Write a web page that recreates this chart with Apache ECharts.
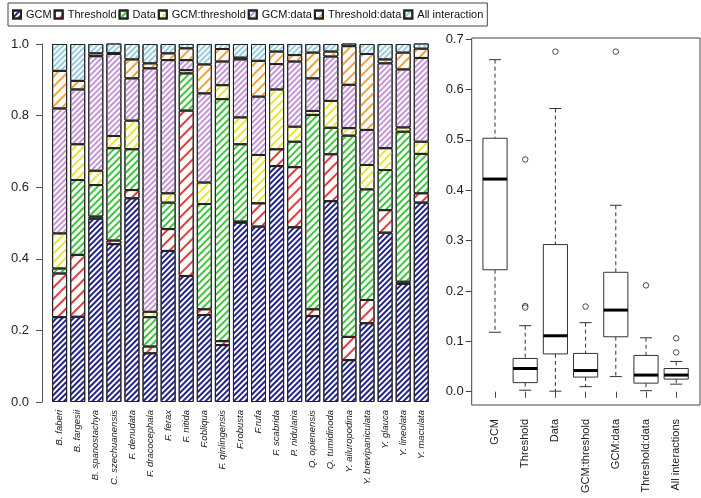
<!DOCTYPE html>
<html>
<head>
<meta charset="utf-8">
<script src="https://cdn.jsdelivr.net/npm/echarts@6/dist/echarts.min.js"></script>
<style>
html,body{margin:0;padding:0;background:#fff;}
#chart{width:701px;height:498px;}
</style>
</head>
<body>
<div id="chart"></div>
<script>
// ---------- Left: stacked proportions per species ----------
const species = ['B. faberi','B. fargesii','B. spanostachya','C. szechuanensis','F. denudata','F. dracocephala','F. ferax','F. nitida','F.obliqua','F. qinlingensis','F.robusta','F.rufa','F. scabrida','P. nidularia','Q. opienensis','Q. tumidinoda','Y. ailuropodina','Y. brevipaniculata','Y. glauca','Y. lineolata','Y. maculata'];
const gcm          = [0.237,0.238,0.512,0.441,0.569,0.136,0.422,0.352,0.243,0.159,0.501,0.490,0.659,0.488,0.240,0.561,0.117,0.220,0.473,0.330,0.557];
const threshold    = [0.122,0.173,0.006,0.010,0.023,0.019,0.061,0.462,0.016,0.011,0.003,0.065,0.047,0.168,0.019,0.131,0.065,0.065,0.063,0.006,0.026];
const dataPart     = [0.014,0.209,0.088,0.258,0.114,0.082,0.074,0.104,0.294,0.676,0.216,0.000,0.000,0.071,0.543,0.074,0.562,0.309,0.112,0.419,0.110];
const gcmThreshold = [0.098,0.100,0.040,0.034,0.080,0.015,0.026,0.009,0.060,0.039,0.075,0.135,0.167,0.042,0.011,0.075,0.021,0.068,0.061,0.012,0.034];
const gcmData      = [0.349,0.153,0.320,0.229,0.118,0.680,0.372,0.028,0.249,0.066,0.162,0.163,0.071,0.182,0.091,0.124,0.121,0.098,0.237,0.162,0.234];
const thresholdData= [0.105,0.024,0.008,0.003,0.053,0.014,0.019,0.033,0.081,0.035,0.005,0.100,0.035,0.018,0.072,0.014,0.108,0.212,0.011,0.047,0.026];
const allInter     = [0.075,0.103,0.026,0.028,0.043,0.054,0.026,0.012,0.057,0.014,0.038,0.047,0.021,0.031,0.024,0.021,0.020,0.028,0.043,0.024,0.021];

// ---------- Right: boxplot statistics ----------
const boxCats = ['GCM','Threshold','Data','GCM:threshold','GCM:data','Threshold:data','All interactions'];
const boxLow  = [0.118,0.003,0.001,0.010,0.030,0.002,0.015];
const boxQ1   = [0.242,0.018,0.075,0.029,0.109,0.017,0.025];
const boxMed  = [0.422,0.046,0.111,0.042,0.162,0.033,0.033];
const boxQ3   = [0.503,0.066,0.292,0.076,0.237,0.072,0.046];
const boxHigh = [0.659,0.131,0.562,0.137,0.370,0.107,0.060];
const outlierCat = [1,1,1,2,3,4,5,6,6];
const outlierVal = [0.461,0.170,0.167,0.675,0.169,0.675,0.211,0.106,0.078];

const FONT = 'Liberation Sans, Arial, Helvetica, sans-serif';
const ROT = -Math.PI/4;

const seriesDefs = [
  {name:'GCM', values:gcm, color:'#23238c', dash:[2,1.6]},
  {name:'Threshold', values:threshold, color:'#e03c3c', dash:[1.2,5.5]},
  {name:'Data', values:dataPart, color:'#3ec63e', dash:[1.2,3]},
  {name:'GCM:threshold', values:gcmThreshold, color:'#e6e63a', dash:[1.2,3.5]},
  {name:'GCM:data', values:gcmData, color:'#c496d6', dash:[1.2,2]},
  {name:'Threshold:data', values:thresholdData, color:'#f0a23c', dash:[1.2,4.5]},
  {name:'All interaction', values:allInter, color:'#98cde0', dash:[1.2,2]}
];

const barSeries = seriesDefs.map(d => ({
  name: d.name,
  type: 'bar',
  stack: 'total',
  xAxisIndex: 0, yAxisIndex: 0,
  barWidth: 15,
  data: d.values,
  itemStyle: {
    color: '#ffffff',
    borderColor: '#222',
    borderWidth: 1,
    decal: {symbol:'rect', symbolSize:1, dashArrayX:[1,0], dashArrayY:d.dash, rotation:ROT, color:d.color}
  },
  emphasis: {disabled: true},
  animation: false
}));

const boxData = boxCats.map((c,i) => [i, boxLow[i], boxQ1[i], boxMed[i], boxQ3[i], boxHigh[i]]);

function renderBox(params, api) {
  const idx = api.value(0);
  const x = api.coord([idx, 0])[0];
  const yl = api.coord([idx, api.value(1)])[1];
  const y1 = api.coord([idx, api.value(2)])[1];
  const ym = api.coord([idx, api.value(3)])[1];
  const y3 = api.coord([idx, api.value(4)])[1];
  const yh = api.coord([idx, api.value(5)])[1];
  const bw = api.size([1, 0])[0] * 0.8;
  const cw = bw / 4;
  const stroke = '#333';
  return {
    type: 'group',
    children: [
      {type:'line', shape:{x1:x,y1:yh,x2:x,y2:y3}, style:{stroke:stroke,lineWidth:1,lineDash:[4,3]}},
      {type:'line', shape:{x1:x,y1:y1,x2:x,y2:yl}, style:{stroke:stroke,lineWidth:1,lineDash:[4,3]}},
      {type:'line', shape:{x1:x-cw,y1:yh,x2:x+cw,y2:yh}, style:{stroke:stroke,lineWidth:1}},
      {type:'line', shape:{x1:x-cw,y1:yl,x2:x+cw,y2:yl}, style:{stroke:stroke,lineWidth:1}},
      {type:'rect', shape:{x:x-bw/2,y:y3,width:bw,height:y1-y3}, style:{fill:'#fff',stroke:stroke,lineWidth:1}},
      {type:'line', shape:{x1:x-bw/2,y1:ym,x2:x+bw/2,y2:ym}, style:{stroke:'#000',lineWidth:3}}
    ]
  };
}

const option = {
  animation: false,
  backgroundColor: '#fff',
  textStyle: {fontFamily: FONT},
  legend: {
    data: seriesDefs.map(d => ({name: d.name, icon: 'rect'})),
    left: 8, top: 3,
    padding: [6, 4, 6, 4],
    itemGap: 2,
    itemWidth: 8, itemHeight: 8,
    borderColor: '#444', borderWidth: 1,
    textStyle: {fontSize: 11, color: '#111', fontFamily: FONT},
    selectedMode: false
  },
  grid: [
    {left: 50.6, right: 270.7, top: 44, bottom: 96},
    {left: 471.7, right: 1, top: 38, bottom: 93, show: true, borderColor: '#444', borderWidth: 1, backgroundColor: 'transparent'},
    {left: 479.9, right: 9.7, top: 39, bottom: 106.3}
  ],
  xAxis: [
    {type:'category', gridIndex:0, data: species,
     axisLine:{show:false}, axisTick:{show:false},
     axisLabel:{rotate:90, fontSize:9.5, fontStyle:'italic', color:'#222', margin:8, interval:0}},
    {type:'value', gridIndex:1, show:false, min:0, max:1},
    {type:'category', gridIndex:2, data: boxCats, offset: 13.3,
     axisLine:{show:false},
     axisTick:{show:true, alignWithLabel:true, length:6, lineStyle:{color:'#444'}},
     axisLabel:{rotate:90, fontSize:11, color:'#222', margin:14, interval:0}}
  ],
  yAxis: [
    {type:'value', gridIndex:0, min:0, max:1, interval:0.2, offset:8.6,
     axisLine:{show:true, lineStyle:{color:'#555'}},
     axisTick:{show:true, length:6, lineStyle:{color:'#555'}},
     axisLabel:{fontSize:13, color:'#222', margin:13, formatter: v => v.toFixed(1)},
     splitLine:{show:false}},
    {type:'value', gridIndex:1, show:false, min:0, max:1},
    {type:'value', gridIndex:2, min:0, max:0.7, interval:0.1, offset:8.2,
     axisLine:{show:false},
     axisTick:{show:true, length:6, lineStyle:{color:'#444'}},
     axisLabel:{fontSize:13, color:'#222', margin:8, formatter: v => v.toFixed(1)},
     splitLine:{show:false}}
  ],
  series: barSeries.concat([
    {type:'custom', name:'box', xAxisIndex:2, yAxisIndex:2,
     renderItem: renderBox, data: boxData, encode:{x:0, y:[1,2,3,4,5]}, silent:true, clip:false},
    {type:'scatter', name:'outliers', xAxisIndex:2, yAxisIndex:2,
     data: outlierCat.map((c,i) => [c, outlierVal[i]]),
     symbol:'circle', symbolSize:5.5,
     itemStyle:{color:'#fff', borderColor:'#222', borderWidth:1}, silent:true}
  ])
};

const chart = echarts.init(document.getElementById('chart'), null, {renderer:'canvas'});
chart.setOption(option);
</script>
</body>
</html>
